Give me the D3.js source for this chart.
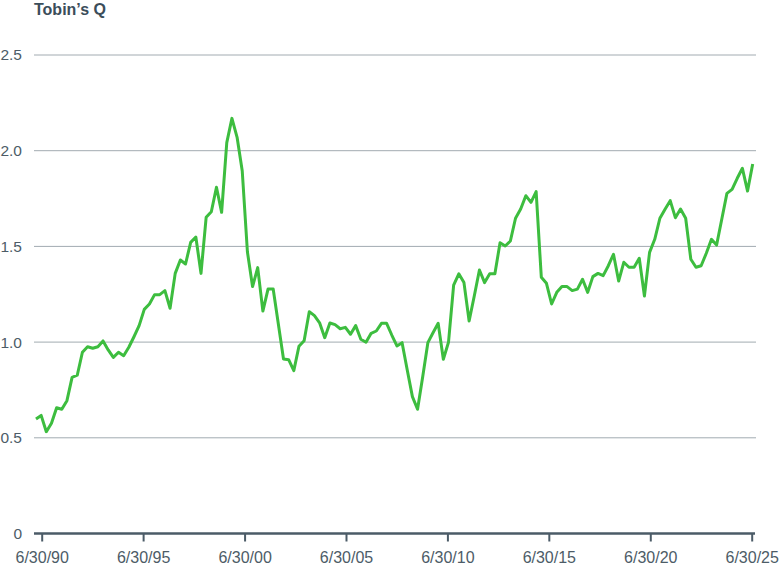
<!DOCTYPE html>
<html>
<head>
<meta charset="utf-8">
<script src="https://cdn.jsdelivr.net/npm/d3@7"></script>
<style>
  html, body { margin: 0; padding: 0; background: #fff; }
  svg { display: block; }
  text { font-family: "Liberation Sans", Arial, Helvetica, sans-serif; }
</style>
</head>
<body>
<svg id="chart" width="781" height="569"></svg>
<script>
// Tobin's Q, quarterly readings (approx. from chart), first ~Q1 1990 to 6/30/25
const tobinsQ = [
  0.598, 0.617, 0.532, 0.576, 0.657, 0.649, 0.694, 0.816, 0.827, 0.947,
  0.976, 0.968, 0.976, 1.006, 0.959, 0.920, 0.947, 0.929, 0.973, 1.028,
  1.086, 1.171, 1.199, 1.248, 1.248, 1.269, 1.177, 1.359, 1.429, 1.408,
  1.521, 1.549, 1.359, 1.652, 1.681, 1.809, 1.678, 2.042, 2.169, 2.070,
  1.894, 1.472, 1.290, 1.389, 1.162, 1.277, 1.277, 1.095, 0.912, 0.908,
  0.851, 0.978, 1.007, 1.159, 1.138, 1.101, 1.023, 1.100, 1.091, 1.070,
  1.077, 1.041, 1.086, 1.015, 0.999, 1.046, 1.058, 1.098, 1.098, 1.037,
  0.980, 0.997, 0.854, 0.715, 0.649, 0.819, 0.997, 1.049, 1.098, 0.910,
  0.999, 1.298, 1.357, 1.311, 1.110, 1.241, 1.377, 1.311, 1.357, 1.357,
  1.519, 1.502, 1.528, 1.647, 1.695, 1.765, 1.730, 1.786, 1.339, 1.307,
  1.199, 1.260, 1.290, 1.290, 1.269, 1.277, 1.328, 1.260, 1.342, 1.359,
  1.347, 1.399, 1.459, 1.319, 1.417, 1.391, 1.391, 1.438, 1.241, 1.469,
  1.537, 1.647, 1.694, 1.739, 1.650, 1.695, 1.647, 1.433, 1.391, 1.399,
  1.464, 1.537, 1.507, 1.642, 1.777, 1.798, 1.856, 1.908, 1.789, 1.931
];
const yTicks = [0, 0.5, 1.0, 1.5, 2.0, 2.5];
const yTickLabels = ["0", "0.5", "1.0", "1.5", "2.0", "2.5"];
const xTickDates = ["1990-06-30", "1995-06-30", "2000-06-30", "2005-06-30",
                    "2010-06-30", "2015-06-30", "2020-06-30", "2025-06-30"];
const xTickLabels = ["6/30/90", "6/30/95", "6/30/00", "6/30/05",
                     "6/30/10", "6/30/15", "6/30/20", "6/30/25"];
const title = "Tobin\u2019s Q";

const svg = d3.select("#chart");
const parse = d3.utcParse("%Y-%m-%d");

const y = d3.scaleLinear().domain([0, 2.5]).range([533.5, 55]);
const xTime = d3.scaleUtc()
  .domain([parse("1990-06-30"), parse("2025-06-30")])
  .range([41.7, 751.7]);
const xIdx = d3.scaleLinear().domain([0, tobinsQ.length - 1]).range([36, 752.7]);

// title
svg.append("text")
  .attr("x", 34).attr("y", 15)
  .attr("font-size", 16).attr("font-weight", "bold")
  .attr("fill", "#3b4d5a")
  .text(title);

// gridlines
svg.append("g").selectAll("line")
  .data(yTicks.filter(d => d > 0))
  .join("line")
  .attr("x1", 34).attr("x2", 756)
  .attr("y1", d => y(d)).attr("y2", d => y(d))
  .attr("stroke", "#a2abb1").attr("stroke-width", 1);

// y labels
svg.append("g").selectAll("text")
  .data(yTicks)
  .join("text")
  .attr("x", 22).attr("y", d => y(d))
  .attr("dy", "0.35em")
  .attr("text-anchor", "end")
  .attr("font-size", 15.5)
  .attr("fill", "#4d5c67")
  .text((d, i) => yTickLabels[i]);

// x axis
const xAxis = d3.axisBottom(xTime)
  .tickValues(xTickDates.map(parse))
  .tickFormat((d, i) => xTickLabels[i])
  .tickSize(8)
  .tickSizeOuter(0)
  .tickPadding(10);
const gx = svg.append("g").attr("transform", "translate(0,533.5)").call(xAxis);
gx.select(".domain").remove();
gx.selectAll(".tick line").attr("stroke", "#4b5b67").attr("stroke-width", 2);
gx.selectAll(".tick text")
  .attr("font-size", 16)
  .attr("fill", "#4d5c67")
  .attr("font-family", "'Liberation Sans', Arial, sans-serif");
gx.append("line")
  .attr("x1", 34).attr("x2", 755).attr("y1", 0).attr("y2", 0)
  .attr("stroke", "#4b5b67").attr("stroke-width", 2.5);

// line
const line = d3.line()
  .x((d, i) => xIdx(i))
  .y(d => y(d));
svg.append("path")
  .datum(tobinsQ)
  .attr("fill", "none")
  .attr("stroke", "#3dbd3f")
  .attr("stroke-width", 3)
  .attr("stroke-linejoin", "round")
  .attr("d", line);
</script>
</body>
</html>
